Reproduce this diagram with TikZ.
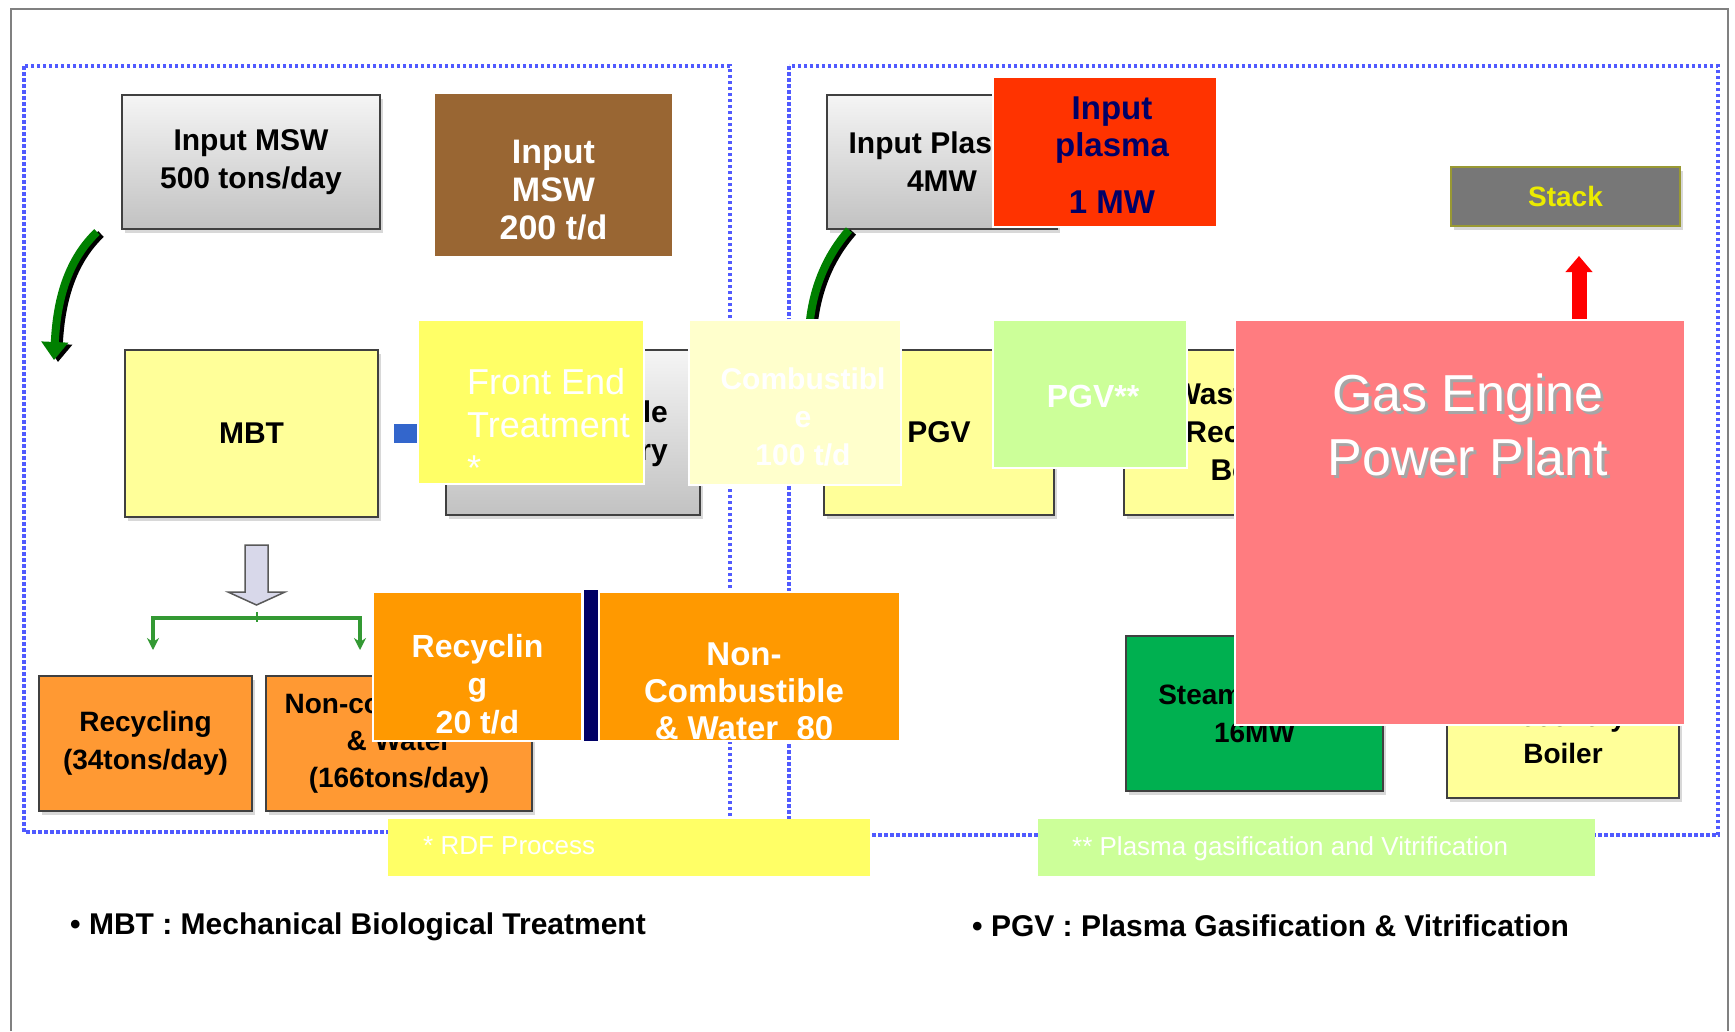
\documentclass[tikz,border=0pt]{standalone}
\usepackage{fontspec}
\setmainfont{Liberation Sans}
\usetikzlibrary{shadows,arrows.meta}
\definecolor{dotblue}{RGB}{80,90,255}
\definecolor{bgyellow}{RGB}{255,255,153}
\definecolor{brownbox}{RGB}{153,102,51}
\definecolor{feyellow}{RGB}{255,255,102}
\definecolor{paleyellow}{RGB}{255,255,204}
\definecolor{redbox}{RGB}{255,51,0}
\definecolor{navytext}{RGB}{0,0,102}
\definecolor{stackgray}{RGB}{119,119,119}
\definecolor{stackedge}{RGB}{153,153,51}
\definecolor{stacktext}{RGB}{235,235,0}
\definecolor{palegreen}{RGB}{204,255,153}
\definecolor{pinkbox}{RGB}{255,124,128}
\definecolor{orangeov}{RGB}{255,153,0}
\definecolor{orangebg}{RGB}{255,153,51}
\definecolor{steamgreen}{RGB}{0,176,80}
\definecolor{arrowgreen}{RGB}{0,128,0}
\definecolor{bracketgreen}{RGB}{51,153,51}
\definecolor{bluestub}{RGB}{51,102,204}
\definecolor{framegray}{RGB}{128,128,128}
\definecolor{hollowfill}{RGB}{216,216,234}
\definecolor{barnavy}{RGB}{0,0,102}
\newcommand\bgtxt{\bfseries\fontsize{30}{38}\selectfont}
\begin{document}
\begin{tikzpicture}[x=1pt,y=-1pt,
  bg/.style={draw=black!75, line width=2.5pt, inner sep=0pt, align=center, font=\bgtxt,
    drop shadow={shadow xshift=3pt, shadow yshift=-4pt, opacity=.3}},
  graybox/.style={bg, top color=gray!8, bottom color=gray!48},
  ylbox/.style={bg, fill=bgyellow},
  ov/.style={draw=white, line width=1.5pt, inner sep=0pt},
  ovtext/.style={inner sep=0pt, align=center, text=white},
  dotline/.style={dotblue, line width=4.5pt, dash pattern=on 3.5pt off 2.5pt},
  greenarrow/.style={arrowgreen, line width=8pt, -{Triangle[width=26pt,length=18pt]}},
  greenshadow/.style={black, line width=8pt, -{Triangle[width=26pt,length=18pt]}},
  legend/.style={inner sep=0pt, anchor=west, font=\bgtxt}]
\fill[white] (0,0) rectangle (1735,1031);
\useasboundingbox (0,0) rectangle (1735,1031);
% outer frame
\draw[framegray, line width=2.5pt] (11,1031) -- (11,9) -- (1728,9) -- (1728,1031);
% dotted regions
\draw[dotline] (24,66) rectangle (730,832);
\draw[dotline] (789,66) rectangle (1718,835);

% ---------- background diagram ----------
\node[graybox, minimum width=258pt, minimum height=134pt] (inmsw) at (251,162) {Input MSW\\500 tons/day};
\node[ylbox, minimum width=253pt, minimum height=167pt] (mbt) at (251.5,433.5) {MBT};
\node[graybox, minimum width=254pt, minimum height=165pt] (combrec) at (573,432.5) {};
\node[inner sep=0pt, align=right, anchor=east, font=\bgtxt] (combrecT) at (668,434) {Combustible\\Recovery};
\node[graybox, minimum width=230pt, minimum height=134pt] (inplasma) at (942,162) {Input Plasma\\4MW};
\node[ylbox, minimum width=230pt, minimum height=165pt] (pgv) at (939,432.5) {PGV};
\node[ylbox, minimum width=258pt, minimum height=165pt] (whrb) at (1253,432.5) {Waste Heat\\Recovery\\Boiler};
\node[bg, fill=stackgray, draw=stackedge, line width=2pt, minimum width=229pt, minimum height=59pt,
  text=stacktext, font=\bfseries\fontsize{28}{32}\selectfont] (stack) at (1565.5,196.5) {Stack};
\node[bg, fill=orangebg, minimum width=213pt, minimum height=135pt, font=\bfseries\fontsize{28}{38}\selectfont] (rec34) at (145.5,743.5) {Recycling\\(34tons/day)};
\node[bg, fill=orangebg, minimum width=266pt, minimum height=135pt, font=\bfseries\fontsize{28}{37}\selectfont] (nc166) at (399,743.5) {Non-combustible\\\& Water\\(166tons/day)};
\node[bg, fill=steamgreen, minimum width=257pt, minimum height=155pt, font=\bfseries\fontsize{28}{38}\selectfont] (steam) at (1254.5,713.5) {Steam Turbine\\16MW};
\node[ylbox, minimum width=232pt, minimum height=163pt, font=\bfseries\fontsize{28}{37}\selectfont] (boiler) at (1563,716.5) {Heat\\Recovery\\Boiler};

% background connectors
\coordinate (la1) at (97,232);
\coordinate (la2) at (54,360);
\draw[greenshadow] ([xshift=4pt,yshift=-2pt]la1) .. controls ([xshift=4pt,yshift=-2pt]70,258) and ([xshift=4pt,yshift=-2pt]57,295) .. ([xshift=4pt,yshift=-2pt]la2);
\draw[greenarrow] (la1) .. controls (70,258) and (57,295) .. (la2);
\coordinate (ra1) at (849,230);
\coordinate (ra2) at (808,345);
\draw[greenshadow] ([xshift=4pt,yshift=-2pt]ra1) .. controls ([xshift=4pt,yshift=-2pt]826,256) and ([xshift=4pt,yshift=-2pt]812,290) .. ([xshift=4pt,yshift=-2pt]ra2);
\draw[greenarrow] (ra1) .. controls (826,256) and (812,290) .. (ra2);
\fill[bluestub] (394,424) rectangle (440,443);
% hollow down arrow
\draw[fill=hollowfill, draw=gray!70!black, line width=1.5pt]
  (245,545) -- (268,545) -- (268,592) -- (285,592) -- (256.5,605) -- (228,592) -- (245,592) -- cycle;
% green bracket
\coordinate (bl) at (153,650);
\coordinate (br) at (360,650);
\draw[bracketgreen, line width=4pt, {Stealth[width=12pt,length=12pt]}-{Stealth[width=12pt,length=12pt]}]
  (bl) -- (153,618) -- (360,618) -- (br);
\draw[bracketgreen, line width=2pt] (256.5,612) -- (256.5,622);

% ---------- overlay boxes ----------
\node[ov, fill=brownbox, minimum width=239pt, minimum height=164pt] (brown) at (553.5,175) {};
\node[ovtext, font=\bfseries\fontsize{34}{38}\selectfont] (brownT) at (553.5,190) {Input\\MSW\\200 t/d};

\node[ov, fill=feyellow, minimum width=226pt, minimum height=164pt] (fe) at (531,402) {};
\node[ovtext, align=left, anchor=west, font=\fontsize{36}{43}\selectfont] (feT) at (467,424) {Front End\\Treatment\\*};

\node[ov, fill=paleyellow, minimum width=212pt, minimum height=165pt] (comb) at (795,402.5) {};
\node[ovtext, font=\bfseries\fontsize{30}{38}\selectfont] (combT) at (803,417) {Combustibl\\e\\100 t/d};

\node[ov, fill=redbox, minimum width=224pt, minimum height=150pt] (red) at (1105,152) {};
\node[ovtext, text=navytext, font=\bfseries\fontsize{33}{37}\selectfont] (redT) at (1112,155) {Input\\plasma\\[20pt]1 MW};

\node[ov, fill=palegreen, minimum width=194pt, minimum height=148pt] (pgvs) at (1090,394) {};
\node[ovtext, font=\bfseries\fontsize{32}{38}\selectfont] (pgvsT) at (1093,396) {PGV**};

% red arrow to stack
\coordinate (sa1) at (1579,322);
\coordinate (sa2) at (1579,256);
\draw[red, line width=15pt, -{Triangle[width=26pt,length=16pt]}] (sa1) -- (sa2);

\node[ov, fill=pinkbox, minimum width=450pt, minimum height=405pt] (gas) at (1460,522.5) {};
\node[ovtext, text=black!35, font=\fontsize{52}{64}\selectfont] (gasS) at (1471,428) {Gas Engine\\Power Plant};
\node[ovtext, font=\fontsize{52}{64}\selectfont] (gasT) at (1468,425) {Gas Engine\\Power Plant};

\node[ov, fill=orangeov, minimum width=209pt, minimum height=149pt] (rec20) at (477.5,666.5) {};
\node[ovtext, font=\bfseries\fontsize{32}{38}\selectfont] (rec20T) at (477.5,684) {Recyclin\\g\\20 t/d};
\fill[barnavy] (584,590) rectangle (598,741);
\node[ov, fill=orangeov, minimum width=301pt, minimum height=149pt] (nc80) at (749.5,666.5) {};
\node[ovtext, font=\bfseries\fontsize{33}{37}\selectfont] (nc80T) at (744,691) {Non-\\Combustible\\\& Water~~80};

\node[ov, draw=none, fill=feyellow, minimum width=482pt, minimum height=57pt] (rdf) at (629,847.5) {};
\node[ovtext, anchor=west, font=\fontsize{26}{30}\selectfont] (rdfT) at (423,846) {* RDF Process};
\node[ov, draw=none, fill=palegreen, minimum width=557pt, minimum height=57pt] (pgvnote) at (1316.5,847.5) {};
\node[ovtext, anchor=west, font=\fontsize{26}{30}\selectfont] (pgvnoteT) at (1072,849) {** Plasma gasification and Vitrification};

% legends
\node[legend] (mbtleg) at (70,927) {• MBT : Mechanical Biological Treatment};
\node[legend] (pgvleg) at (972,926) {• PGV : Plasma Gasification \& Vitrification};
\end{tikzpicture}
\end{document}
